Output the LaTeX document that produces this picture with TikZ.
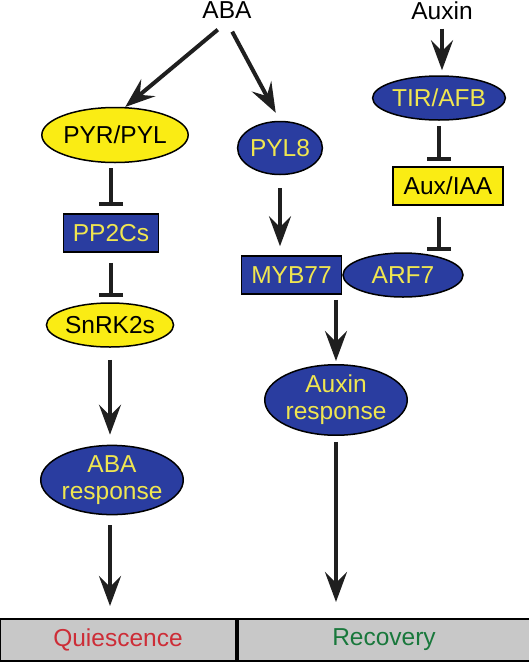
\documentclass[tikz,border=0pt]{standalone}
\usepackage{fontspec}
\setmainfont{Liberation Sans}
\usetikzlibrary{shapes.geometric, positioning, arrows.meta}
\definecolor{pathblue}{RGB}{42,61,160}
\definecolor{pathyellow}{RGB}{250,236,20}
\definecolor{labelyellow}{RGB}{240,230,80}
\definecolor{quired}{RGB}{205,45,55}
\definecolor{recgreen}{RGB}{25,120,60}
\definecolor{bargray}{RGB}{200,200,200}

\begin{document}
\begin{tikzpicture}[x=1pt, y=-1pt, font=\fontsize{24.5}{27}\selectfont,
    blueell/.style={ellipse, draw, line width=1.5pt, fill=pathblue, text=labelyellow, inner sep=0pt, align=center},
    yellowell/.style={ellipse, draw, line width=1.5pt, fill=pathyellow, inner sep=0pt},
    bluebox/.style={rectangle, draw, line width=1.5pt, fill=pathblue, text=labelyellow, inner sep=0pt},
    yellowbox/.style={rectangle, draw, line width=1.5pt, fill=pathyellow, inner sep=0pt},
    outcome/.style={rectangle, draw, line width=2pt, fill=bargray, minimum height=42pt, inner sep=0pt},
    act/.style={-{Stealth[length=30pt, width=22pt, inset=11pt]}, line width=4pt, draw=black!88},
    inh/.style={-{Bar[width=24pt]}, line width=4pt, draw=black!88}]
    \useasboundingbox (0,0) rectangle (528,662);

    % hormones
    \node (aba) at (227,10) {ABA};
    \node (auxin) at (442,11) {Auxin};

    % ABA branch
    \node[yellowell, minimum width=144pt, minimum height=55pt] (pyr) at (115,135) {PYR/PYL};
    \node[bluebox, minimum width=95pt, minimum height=38pt] (pp2c) at (111,233) {PP2Cs};
    \node[yellowell, minimum width=125pt, minimum height=44pt] (snrk) at (110,325) {SnRK2s};
    \node[blueell, minimum width=129pt, minimum height=64pt] (abaresp) at (112,480) {ABA\\response};

    % PYL8 / auxin branch
    \node[blueell, minimum width=81pt, minimum height=53pt] (pyl8) at (280,148) {PYL8};
    \node[blueell, minimum width=118pt, minimum height=44pt] (tir) at (439,98) {TIR/AFB};
    \node[yellowbox, minimum width=110pt, minimum height=38pt] (auxiaa) at (448,186) {Aux/IAA};
    \node[blueell, minimum width=120pt, minimum height=44pt] (arf7) at (403,275) {ARF7};
    \node[bluebox, minimum width=100pt, minimum height=38pt, left=0pt of arf7] (myb77) {MYB77};
    \node[blueell, minimum width=129pt, minimum height=64pt] (auxresp) at (336,400) {Auxin\\response};

    % outcomes
    \node[outcome, minimum width=236pt, text=quired] (qui) at (118,640) {Quiescence};
    \node[outcome, minimum width=292pt, text=recgreen, right=0pt of qui] (rec) {Recovery};

    \draw[act, shorten <=12pt] (aba.south) -- (pyr.70);
    \draw[act, shorten <=11pt, shorten >=9pt] (aba.south) -- (pyl8.north);
    \draw[inh, shorten <=5pt, shorten >=7pt] (pyr.south -| pp2c.north) -- (pp2c.north);
    \draw[inh, shorten <=10pt, shorten >=5pt] (pp2c.south) -- (snrk.north -| pp2c.south);
    \draw[act, shorten <=12pt, shorten >=10pt] (snrk.south) -- (abaresp.north -| snrk.south);
    \draw[act, shorten <=10pt, shorten >=12pt] (abaresp.south -| snrk.south) -- (qui.north -| snrk.south);

    \draw[act, shorten <=5pt, shorten >=5pt] (auxin.south) -- (tir.north -| auxin.south);
    \draw[inh, shorten <=5pt, shorten >=5pt] (tir.south) -- (auxiaa.north -| tir.south);
    \draw[inh, shorten <=11pt, shorten >=1pt] (auxiaa.south -| tir.south) -- (arf7.north -| tir.south);
    \draw[act, shorten <=13pt, shorten >=9pt] (pyl8.south) -- (myb77.north -| pyl8.south);
    \draw[act, shorten <=5pt, shorten >=3pt] (myb77.south -| auxresp.north) -- (auxresp.north);
    \draw[act, shorten <=6pt, shorten >=16pt] (auxresp.south) -- (rec.north -| auxresp.south);
\end{tikzpicture}
\end{document}
